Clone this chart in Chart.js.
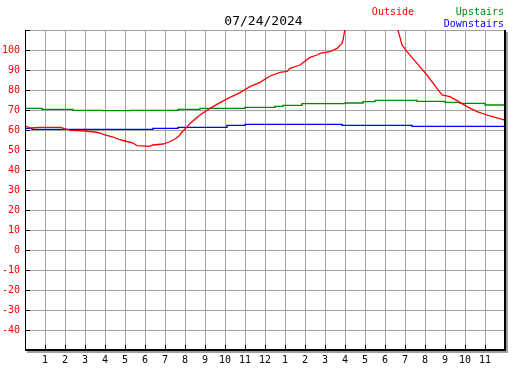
<!DOCTYPE html>
<html>
<head>
<meta charset="utf-8">
<script src="https://cdn.jsdelivr.net/npm/chart.js@4"></script>
<style>
  html, body { margin: 0; padding: 0; background: #fff; }
  canvas { display: block; }
</style>
</head>
<body>
<canvas id="temp-chart" width="527" height="370"></canvas>
<script>
// Temperatures for 07/24/2024, hours since midnight

const chartTitle = "07/24/2024";

// Outside
const outsideHours = [0, 0.3, 0.7, 1.8, 2.0, 2.3, 3.0, 3.5, 3.8, 4.0, 4.4, 4.7, 5.0, 5.4, 5.6, 6.2, 6.4, 6.9, 7.2, 7.5, 7.7, 7.9, 8.1, 8.25, 8.75, 9.25, 9.75, 10.25, 10.75, 11.25, 11.75, 12.25, 12.75, 13.1, 13.25, 13.75, 14.25, 14.6, 14.75, 15.25, 15.6, 15.85, 15.9, 16.0, 16.5, 17.3, 18.2, 18.65, 18.85, 19.1, 19.6, 20.1, 20.6, 20.85, 21.25, 21.6, 22.1, 22.6, 23.25, 23.85, 24];
const outsideTemps = [62, 61, 61.3, 61.3, 60.5, 59.8, 59.5, 59, 58.3, 57.5, 56.5, 55.3, 54.5, 53.5, 52.2, 51.8, 52.5, 53, 54, 55.5, 57, 59.5, 61.5, 63.3, 67.5, 70.8, 73.7, 76.3, 78.7, 81.7, 83.8, 87, 88.8, 89.3, 90.8, 92.5, 96.3, 97.5, 98.3, 99.2, 100.8, 103.3, 105, 110.5, 116, 120, 116, 110, 102.5, 99.2, 93.3, 87.5, 80.8, 77.5, 76.7, 74.7, 71.7, 69.2, 67, 65.3, 65];

// Upstairs
const upstairsHours = [0, 0.85, 2.4, 3.9, 5.25, 7.65, 8.75, 11, 12.5, 12.9, 13.85, 16, 16.9, 17.5, 19.6, 21, 21.75, 23, 23.75, 24];
const upstairsTemps = [71.3, 70.8, 70.3, 69.8, 69.7, 69.8, 70.3, 70.8, 71.3, 71.8, 72.3, 73.2, 73.5, 74.2, 74.8, 74.3, 73.8, 73.3, 72.5, 72.5];

// Downstairs
const downstairsHours = [0, 0.35, 6.4, 7.65, 10.1, 11, 15.85, 19.35, 22.6, 24];
const downstairsTemps = [61.3, 60.8, 60.3, 60.8, 61.3, 62.3, 62.8, 62.3, 61.8, 61.8];

// Axis ticks
const yMin = -50;
const yMax = 110;
const hourTicks = [0, 1, 2, 3, 4, 5, 6, 7, 8, 9, 10, 11, 12, 13, 14, 15, 16, 17, 18, 19, 20, 21, 22, 23, 24];

function toPoints(hours, temps) {
  return hours.map((h, i) => ({ x: h, y: temps[i] }));
}

const monoFont = '"DejaVu Sans Mono", "Liberation Mono", monospace';

// draws title, legend text, inward tick marks and the dark frame
const framePlugin = {
  id: "frame",
  afterDraw(chart) {
    const ctx = chart.ctx;
    const area = chart.chartArea;
    const xScale = chart.scales.x;
    const yScale = chart.scales.y;

    ctx.save();
    ctx.strokeStyle = "#000";
    ctx.lineWidth = 1;
    ctx.beginPath();
    yScale.ticks.forEach((t) => {
      const py = Math.round(yScale.getPixelForValue(t.value)) + 0.5;
      ctx.moveTo(area.left, py);
      ctx.lineTo(area.left + 5, py);
    });
    xScale.ticks.forEach((t) => {
      const px = Math.round(xScale.getPixelForValue(t.value)) + 0.5;
      ctx.moveTo(px, area.bottom - 5);
      ctx.lineTo(px, area.bottom);
    });
    ctx.stroke();

    // shadow
    ctx.fillStyle = "#a0a0a0";
    ctx.fillRect(area.right + 1, area.top + 2, 2, area.bottom - area.top + 1);
    ctx.fillRect(area.left + 2, area.bottom + 1, area.right - area.left + 1, 2);
    // frame
    ctx.fillStyle = "#000";
    ctx.fillRect(area.right - 1, area.top, 2, area.bottom - area.top + 1);
    ctx.fillRect(area.left, area.bottom - 1, area.right - area.left + 1, 2);
    ctx.fillRect(area.left, area.top, 1, area.bottom - area.top);

    // title
    ctx.fillStyle = "#000";
    ctx.font = "13px " + monoFont;
    ctx.textAlign = "center";
    ctx.textBaseline = "alphabetic";
    ctx.fillText(chartTitle, chart.width / 2, 25);

    // legend
    const ds = chart.data.datasets;
    ctx.font = "10px " + monoFont;
    ctx.textAlign = "right";
    ctx.fillStyle = ds[0].borderColor;
    ctx.fillText(ds[0].label, 414, 15);
    ctx.fillStyle = ds[1].borderColor;
    ctx.fillText(ds[1].label, 504, 15);
    ctx.fillStyle = ds[2].borderColor;
    ctx.fillText(ds[2].label, 504, 27);
    ctx.restore();
  },
};

const tempChart = new Chart(document.getElementById("temp-chart").getContext("2d"), {
  type: "line",
  data: {
    datasets: [
      {
        label: "Outside",
        data: toPoints(outsideHours, outsideTemps),
        borderColor: "#ff0000",
        borderWidth: 1.3,
        pointRadius: 0,
        tension: 0,
      },
      {
        label: "Upstairs",
        data: toPoints(upstairsHours, upstairsTemps),
        borderColor: "#008c00",
        borderWidth: 1.4,
        pointRadius: 0,
        stepped: "after",
      },
      {
        label: "Downstairs",
        data: toPoints(downstairsHours, downstairsTemps),
        borderColor: "#0000ff",
        borderWidth: 1.4,
        pointRadius: 0,
        stepped: "after",
      },
    ],
  },
  options: {
    responsive: false,
    animation: false,
    layout: { padding: { top: 30, right: 22, left: 0, bottom: 0 } },
    plugins: {
      legend: { display: false },
      title: { display: false },
      tooltip: { enabled: false },
    },
    scales: {
      x: {
        type: "linear",
        min: 0,
        max: 24,
        afterFit(axis) { axis.height = 20; },
        afterBuildTicks(axis) { axis.ticks = hourTicks.map((v) => ({ value: v })); },
        ticks: {
          autoSkip: false,
          maxRotation: 0,
          padding: 4,
          color: "#000",
          font: { family: monoFont, size: 10 },
          callback: (v) => (v % 24 === 0 ? "" : String(((v + 11) % 12) + 1)),
        },
        grid: { color: "#a0a0a0", lineWidth: 1, drawTicks: false },
        border: { display: false },
      },
      y: {
        min: yMin,
        max: yMax,
        afterFit(axis) { axis.width = 25; },
        ticks: {
          stepSize: 10,
          padding: 5,
          color: "#ff0000",
          font: { family: monoFont, size: 10 },
          callback: (v) => (v === yMin || v === yMax ? "" : String(v)),
        },
        grid: { color: "#a0a0a0", lineWidth: 1, drawTicks: false },
        border: { display: false },
      },
    },
  },
  plugins: [framePlugin],
});
</script>
</body>
</html>
